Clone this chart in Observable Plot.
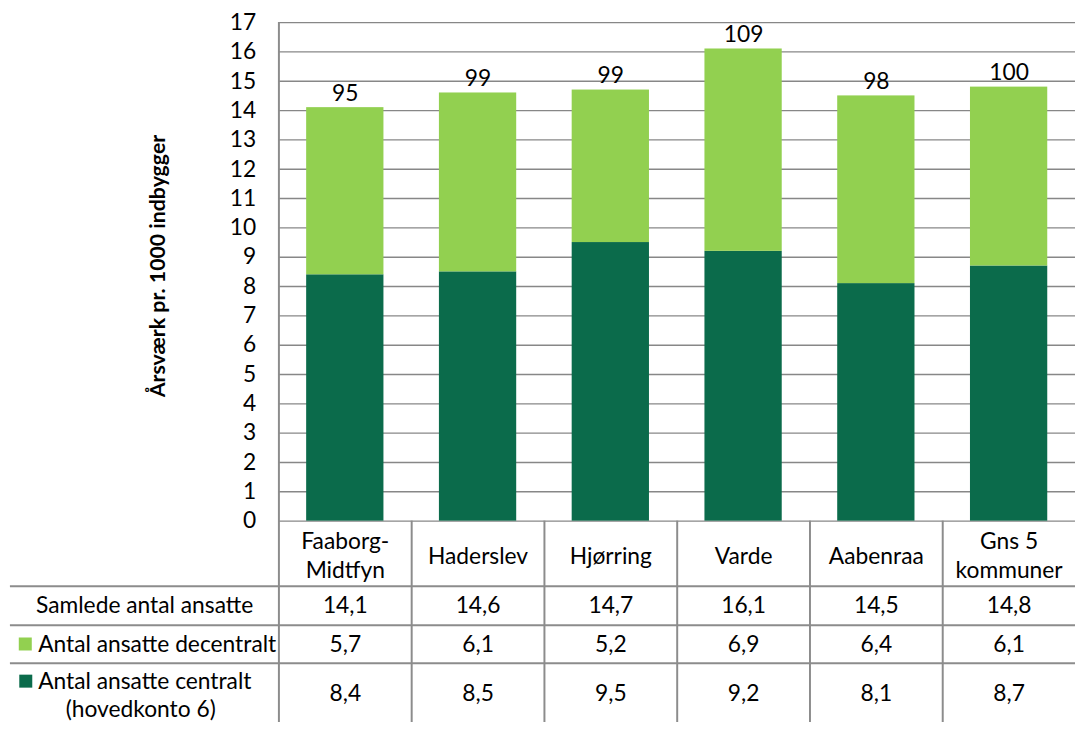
<!DOCTYPE html>
<html><head><meta charset="utf-8">
<script src="https://cdn.jsdelivr.net/npm/d3@7"></script>
<script src="https://cdn.jsdelivr.net/npm/@observablehq/plot@0.6"></script>
<style>html,body{margin:0;padding:0;background:#fff;overflow:hidden;}</style>
</head><body><div id="chart"></div>
<script>
// ---- data ----
const categories = ["Faaborg-\nMidtfyn", "Haderslev", "Hjørring", "Varde", "Aabenraa", "Gns 5\nkommuner"];
const central = [8.4, 8.5, 9.5, 9.2, 8.1, 8.7];
const decentral = [5.7, 6.1, 5.2, 6.9, 6.4, 6.1];
const totals = [14.1, 14.6, 14.7, 16.1, 14.5, 14.8];
const indexLabels = [95, 99, 99, 109, 98, 100];
const seriesKeys = ["central", "decentral"];
const rowLabels = ["Samlede antal ansatte", "Antal ansatte decentralt", "Antal ansatte centralt", "(hovedkonto 6)"];
const yTicks = [0, 1, 2, 3, 4, 5, 6, 7, 8, 9, 10, 11, 12, 13, 14, 15, 16, 17];
const yTitle = "Årsværk pr. 1000 indbygger";

// ---- layout / style ----
const W = 1085, H = 729, mLeft = 281, mTop = 22.3, zeroY = 525.5;
const step = (W - mLeft) / categories.length;
const dark = "#0b6b4b", light = "#92d050";
const gridColor = "#878787", tableColor = "#8c8c8c";
const font = "Lato";
const fs = 23;
const fmt = v => d3.format(".1f")(v).replace(".", ",");

const stacked = categories.flatMap((c, i) => [
  {cat: c, series: "central", value: central[i]},
  {cat: c, series: "decentral", value: decentral[i]}
]);

const rowDy = [85.5, 124.5, 174];
const lineOffsets = [65.7, 105, 143.5];

const marks = [
  Plot.ruleY(yTicks, {stroke: gridColor, strokeWidth: 1.4}),
  Plot.barY(stacked, {x: "cat", y: "value", fill: "series"}),
  Plot.ruleX([categories[0]], {dx: -step / 2, stroke: tableColor, strokeWidth: 2}),
  Plot.ruleX(categories.slice(1), {dx: -step / 2, insetTop: zeroY - mTop, stroke: tableColor, strokeWidth: 2}),
  ...lineOffsets.map(o => Plot.ruleY([0], {dy: o, insetLeft: -(mLeft - 10), stroke: tableColor, strokeWidth: 2})),
  Plot.axisY({ticks: yTicks, tickSize: 0, tickPadding: 23, tickFormat: d => String(d), label: null, fontSize: fs}),
  Plot.text(indexLabels, {x: (d, i) => categories[i], y: (d, i) => totals[i], text: d => String(d), lineAnchor: "bottom", dy: -7, fontSize: fs}),
  Plot.text(categories, {x: d => d, y: 0, dy: 33.5, lineAnchor: "middle", lineHeight: 1.274, fontSize: fs}),
  Plot.text(totals, {x: (d, i) => categories[i], y: 0, dy: rowDy[0], text: fmt, lineAnchor: "middle", fontSize: fs}),
  Plot.text(decentral, {x: (d, i) => categories[i], y: 0, dy: rowDy[1], text: fmt, lineAnchor: "middle", fontSize: fs}),
  Plot.text(central, {x: (d, i) => categories[i], y: 0, dy: rowDy[2], text: fmt, lineAnchor: "middle", fontSize: fs}),
  Plot.text([rowLabels[0]], {frameAnchor: "left", y: 0, dx: -(mLeft - 145.5), dy: rowDy[0], textAnchor: "middle", lineAnchor: "middle", fontSize: fs}),
  Plot.text([rowLabels[1]], {frameAnchor: "left", y: 0, dx: -(mLeft - 38), dy: rowDy[1], textAnchor: "start", lineAnchor: "middle", fontSize: fs}),
  Plot.text([rowLabels[2]], {frameAnchor: "left", y: 0, dx: -(mLeft - 38), dy: 162.5, textAnchor: "start", lineAnchor: "middle", fontSize: fs}),
  Plot.text([rowLabels[3]], {frameAnchor: "left", y: 0, dx: -(mLeft - 141.5), dy: 190, textAnchor: "middle", lineAnchor: "middle", fontSize: fs}),
  Plot.dot([seriesKeys[1]], {frameAnchor: "left", y: 0, dx: -(mLeft - 25), dy: 124, symbol: "square", r: 7.4, fill: d => d, stroke: null}),
  Plot.dot([seriesKeys[0]], {frameAnchor: "left", y: 0, dx: -(mLeft - 25.5), dy: 161.5, symbol: "square", r: 7.4, fill: d => d, stroke: null}),
  Plot.text([yTitle], {frameAnchor: "top-left", dx: -(mLeft - 159), dy: 268 - mTop, rotate: -90, textAnchor: "middle", lineAnchor: "middle", fontWeight: "bold", fontSize: 21.5})
];

const chart = Plot.plot({
  width: W,
  height: H,
  marginLeft: mLeft,
  marginRight: 0,
  marginTop: mTop,
  marginBottom: 0,
  style: {fontFamily: font, fontSize: fs + "px", background: "#fff", color: "#000"},
  x: {domain: categories, range: [mLeft, W], paddingInner: 0.42, paddingOuter: 0.21, axis: null},
  y: {domain: [0, 17], range: [zeroY, mTop], axis: null},
  color: {domain: seriesKeys, range: [dark, light]},
  marks
});
document.getElementById("chart").appendChild(chart);
</script>
</body></html>
